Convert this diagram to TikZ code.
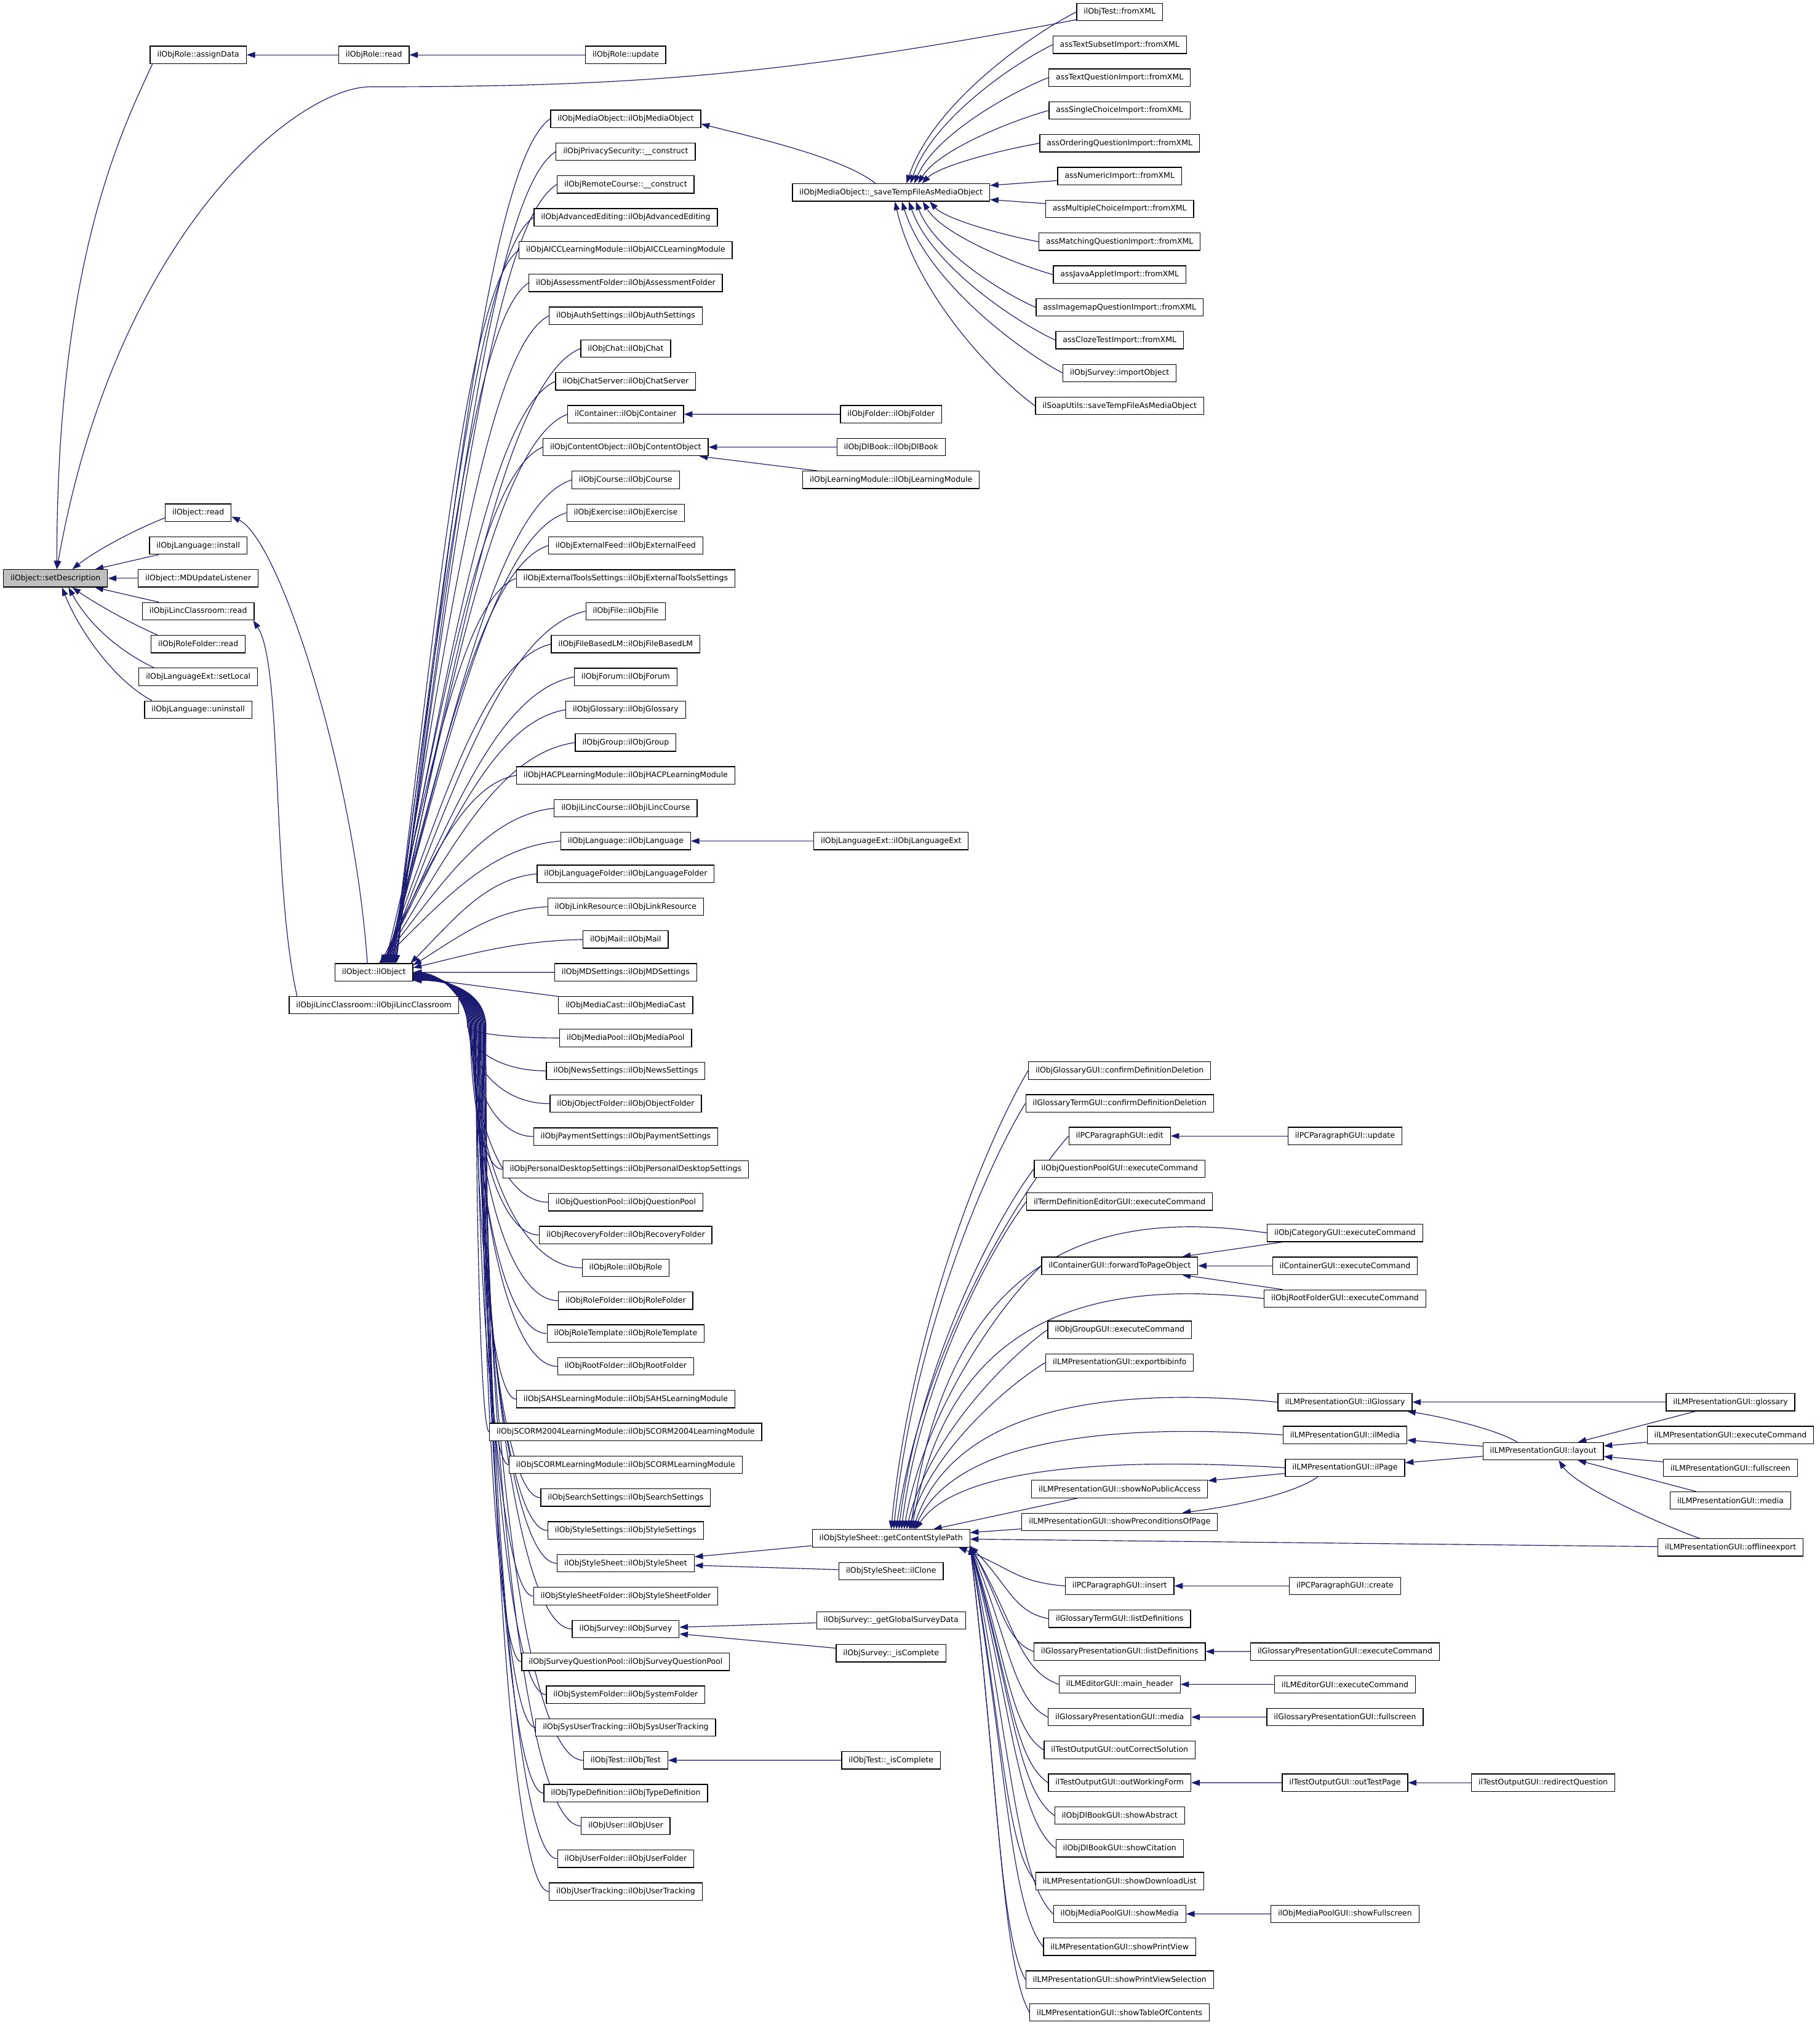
\documentclass[tikz,border=0pt]{standalone}
\usepackage{fontspec}
\setmainfont{DejaVu Sans}
\usetikzlibrary{arrows.meta,calc}
\definecolor{edgecol}{HTML}{191970}
\definecolor{hlgray}{HTML}{BFBFBF}
\pgfdeclarelayer{back}
\pgfdeclarelayer{edges}
\pgfsetlayers{back,edges,main}
\newcommand\fanedge[6]{%
  \draw[conn] let \p1=(#1), \p2=(#2), \n1={\x1-\x2}, \n2={\y1-\y2} in
    (\p1) .. controls ($(\p1)+({-1*(#3)*\n1},{-1*(#4)*\n2})$)
             and ($(\p2)+({(#5)*\n1},{(#6)*\n2})$) .. (\p2);}
\newcommand\lowfan[3]{%
  \draw[conn] let \p1=(c#1.west) in
    (\p1) .. controls ({\x1-0.6*(\x1-#2pt)},\y1) and (#2,{-795+0.5*(\y1+795)}) .. (#2,-795)
    .. controls (#2,-772) and ({#2-22},{-752.9+#3}) .. ([yshift=#3pt]obj.east);}
\begin{document}
\begin{tikzpicture}[x=1pt,y=1pt,
  box/.style={draw=black,line width=0.6pt,fill=white,
    font=\fontsize{5.95}{7}\selectfont,inner xsep=5.45pt,inner ysep=0pt,
    minimum height=13.5pt},
  conn/.style={draw=edgecol,line width=0.55pt,
    -{Triangle[length=6.5pt,width=4.6pt]}}]
\useasboundingbox (0,0) rectangle (1409,-1568);
\begin{pgfonlayer}{back}
\fill[white] (0,0) rectangle (1409,-1568);
\end{pgfonlayer}

% ---------- rank 1 / 2 / 3
\node[box,fill=hlgray] (sd) at (43,-447.8) {ilObject::setDescription};
\node[box] (ad) at (153.5,-42.5) {ilObjRole::assignData};
\node[box] (oread) at (153.5,-397) {ilObject::read};
\node[box] (inst) at (153.5,-422.4) {ilObjLanguage::install};
\node[box] (mdu) at (153.5,-447.8) {ilObject::MDUpdateListener};
\node[box] (lcr) at (153.5,-473.3) {ilObjiLincClassroom::read};
\node[box] (rfr) at (153.5,-498.7) {ilObjRoleFolder::read};
\node[box] (sl) at (153.5,-524.1) {ilObjLanguageExt::setLocal};
\node[box] (un) at (153.5,-549.5) {ilObjLanguage::uninstall};
\node[box] (rr) at (289.5,-42.5) {ilObjRole::read};
\node[box] (obj) at (289.5,-752.9) {ilObject::ilObject};
\node[box] (lc) at (289.5,-778.3) {ilObjiLincClassroom::ilObjiLincClassroom};
\node[box] (ru) at (484.5,-42.5) {ilObjRole::update};

% ---------- rank 4 (constructors)
\foreach \k/\t in {
 0/ilObjMediaObject::ilObjMediaObject,
 1/ilObjPrivacySecurity::\_\_construct,
 2/ilObjRemoteCourse::\_\_construct,
 3/ilObjAdvancedEditing::ilObjAdvancedEditing,
 4/ilObjAICCLearningModule::ilObjAICCLearningModule,
 5/ilObjAssessmentFolder::ilObjAssessmentFolder,
 6/ilObjAuthSettings::ilObjAuthSettings,
 7/ilObjChat::ilObjChat,
 8/ilObjChatServer::ilObjChatServer,
 9/ilContainer::ilObjContainer,
 10/ilObjContentObject::ilObjContentObject,
 11/ilObjCourse::ilObjCourse,
 12/ilObjExercise::ilObjExercise,
 13/ilObjExternalFeed::ilObjExternalFeed,
 14/ilObjExternalToolsSettings::ilObjExternalToolsSettings,
 15/ilObjFile::ilObjFile,
 16/ilObjFileBasedLM::ilObjFileBasedLM,
 17/ilObjForum::ilObjForum,
 18/ilObjGlossary::ilObjGlossary,
 19/ilObjGroup::ilObjGroup,
 20/ilObjHACPLearningModule::ilObjHACPLearningModule,
 21/ilObjiLincCourse::ilObjiLincCourse,
 22/ilObjLanguage::ilObjLanguage,
 23/ilObjLanguageFolder::ilObjLanguageFolder,
 24/ilObjLinkResource::ilObjLinkResource,
 25/ilObjMail::ilObjMail,
 26/ilObjMDSettings::ilObjMDSettings,
 27/ilObjMediaCast::ilObjMediaCast,
 28/ilObjMediaPool::ilObjMediaPool,
 29/ilObjNewsSettings::ilObjNewsSettings,
 30/ilObjObjectFolder::ilObjObjectFolder,
 31/ilObjPaymentSettings::ilObjPaymentSettings,
 32/ilObjPersonalDesktopSettings::ilObjPersonalDesktopSettings,
 33/ilObjQuestionPool::ilObjQuestionPool,
 34/ilObjRecoveryFolder::ilObjRecoveryFolder,
 35/ilObjRole::ilObjRole,
 36/ilObjRoleFolder::ilObjRoleFolder,
 37/ilObjRoleTemplate::ilObjRoleTemplate,
 38/ilObjRootFolder::ilObjRootFolder,
 39/ilObjSAHSLearningModule::ilObjSAHSLearningModule,
 40/ilObjSCORM2004LearningModule::ilObjSCORM2004LearningModule,
 41/ilObjSCORMLearningModule::ilObjSCORMLearningModule,
 42/ilObjSearchSettings::ilObjSearchSettings,
 43/ilObjStyleSettings::ilObjStyleSettings,
 44/ilObjStyleSheet::ilObjStyleSheet,
 45/ilObjStyleSheetFolder::ilObjStyleSheetFolder,
 46/ilObjSurvey::ilObjSurvey,
 47/ilObjSurveyQuestionPool::ilObjSurveyQuestionPool,
 48/ilObjSystemFolder::ilObjSystemFolder,
 49/ilObjSysUserTracking::ilObjSysUserTracking,
 50/ilObjTest::ilObjTest,
 51/ilObjTypeDefinition::ilObjTypeDefinition,
 52/ilObjUser::ilObjUser,
 53/ilObjUserFolder::ilObjUserFolder,
 54/ilObjUserTracking::ilObjUserTracking}
 \node[box] (c\k) at (484.5,{-92-25.42*\k}) {\t};

% ---------- rank 5
\node[box] (save) at (690,-149.1) {ilObjMediaObject::\_saveTempFileAsMediaObject};
\node[box] (fol) at (690,-320.78) {ilObjFolder::ilObjFolder};
\node[box] (dlb) at (690,-346.2) {ilObjDlBook::ilObjDlBook};
\node[box] (lm) at (690,-371.6) {ilObjLearningModule::ilObjLearningModule};
\node[box] (lx) at (690,-651.24) {ilObjLanguageExt::ilObjLanguageExt};
\node[box] (gp) at (690,-1191.1) {ilObjStyleSheet::getContentStylePath};
\node[box] (cl) at (690,-1216.6) {ilObjStyleSheet::ilClone};
\node[box] (gsd) at (690,-1254.7) {ilObjSurvey::\_getGlobalSurveyData};
\node[box] (sic) at (690,-1280.1) {ilObjSurvey::\_isComplete};
\node[box] (tic) at (690,-1363.0) {ilObjTest::\_isComplete};

% ---------- rank 6
\foreach \j/\t in {
 0/ilObjTest::fromXML,
 1/assTextSubsetImport::fromXML,
 2/assTextQuestionImport::fromXML,
 3/assSingleChoiceImport::fromXML,
 4/assOrderingQuestionImport::fromXML,
 5/assNumericImport::fromXML,
 6/assMultipleChoiceImport::fromXML,
 7/assMatchingQuestionImport::fromXML,
 8/assJavaAppletImport::fromXML,
 9/assImagemapQuestionImport::fromXML,
 10/assClozeTestImport::fromXML,
 11/ilObjSurvey::importObject,
 12/ilSoapUtils::saveTempFileAsMediaObject}
 \node[box] (r\j) at (867,{-9.25-25.42*\j}) {\t};

\node[box] (g0) at (867,-829.0) {ilObjGlossaryGUI::confirmDefinitionDeletion};
\node[box] (g1) at (867,-854.4) {ilGlossaryTermGUI::confirmDefinitionDeletion};
\node[box] (g2) at (867,-879.6) {ilPCParagraphGUI::edit};
\node[box] (g3) at (867,-905.0) {ilObjQuestionPoolGUI::executeCommand};
\node[box] (g4) at (867,-930.4) {ilTermDefinitionEditorGUI::executeCommand};
\node[box] (g5) at (867,-980.1) {ilContainerGUI::forwardToPageObject};
\node[box] (g6) at (867,-1029.7) {ilObjGroupGUI::executeCommand};
\node[box] (g7) at (867,-1055.0) {ilLMPresentationGUI::exportbibinfo};
\node[box] (g8) at (867,-1153.0) {ilLMPresentationGUI::showNoPublicAccess};
\node[box] (g9) at (867,-1178.4) {ilLMPresentationGUI::showPreconditionsOfPage};

\foreach \i/\t in {
 0/ilPCParagraphGUI::insert,
 1/ilGlossaryTermGUI::listDefinitions,
 2/ilGlossaryPresentationGUI::listDefinitions,
 3/ilLMEditorGUI::main\_header,
 4/ilGlossaryPresentationGUI::media,
 5/ilTestOutputGUI::outCorrectSolution,
 6/ilTestOutputGUI::outWorkingForm,
 7/ilObjDlBookGUI::showAbstract,
 8/ilObjDlBookGUI::showCitation,
 9/ilLMPresentationGUI::showDownloadList,
 10/ilObjMediaPoolGUI::showMedia,
 11/ilLMPresentationGUI::showPrintView,
 12/ilLMPresentationGUI::showPrintViewSelection,
 13/ilLMPresentationGUI::showTableOfContents}
 \node[box] (h\i) at (867,{-1228-25.4*\i}) {\t};

% ---------- rank 7 / 8 / 9
\node[box] (pcu) at (1041.5,-879.6) {ilPCParagraphGUI::update};
\node[box] (cat) at (1041.5,-954.7) {ilObjCategoryGUI::executeCommand};
\node[box] (cge) at (1041.5,-980.1) {ilContainerGUI::executeCommand};
\node[box] (rfg) at (1041.5,-1005.5) {ilObjRootFolderGUI::executeCommand};
\node[box] (ilg) at (1041.5,-1085.7) {ilLMPresentationGUI::ilGlossary};
\node[box] (ilm) at (1041.5,-1111.1) {ilLMPresentationGUI::ilMedia};
\node[box] (ilp) at (1041.5,-1136.5) {ilLMPresentationGUI::ilPage};
\node[box] (pcc) at (1041.5,-1228.0) {ilPCParagraphGUI::create};
\node[box] (gpe) at (1041.5,-1278.8) {ilGlossaryPresentationGUI::executeCommand};
\node[box] (lme) at (1041.5,-1304.2) {ilLMEditorGUI::executeCommand};
\node[box] (gpf) at (1041.5,-1329.6) {ilGlossaryPresentationGUI::fullscreen};
\node[box] (otp) at (1041.5,-1380.4) {ilTestOutputGUI::outTestPage};
\node[box] (mpf) at (1041.5,-1482.0) {ilObjMediaPoolGUI::showFullscreen};
\node[box] (lay) at (1195,-1123.7) {ilLMPresentationGUI::layout};
\node[box] (rq) at (1195,-1380.4) {ilTestOutputGUI::redirectQuestion};
\node[box] (lgl) at (1340,-1085.7) {ilLMPresentationGUI::glossary};
\node[box] (lex) at (1340,-1111.1) {ilLMPresentationGUI::executeCommand};
\node[box] (lfs) at (1340,-1136.5) {ilLMPresentationGUI::fullscreen};
\node[box] (lmd) at (1340,-1161.9) {ilLMPresentationGUI::media};
\node[box] (off) at (1340,-1198.2) {ilLMPresentationGUI::offlineexport};

% ================= connectors
\begin{pgfonlayer}{edges}
% straight ones
\draw[conn] (rr) -- (ad);
\draw[conn] (ru) -- (rr);
\draw[conn] (mdu) -- (sd);
\draw[conn] (inst) -- (sd);
\draw[conn] (lcr) -- (sd);
\draw[conn] (fol) -- (c9);
\draw[conn] (dlb) -- (c10);
\draw[conn] (lm) -- (c10);
\draw[conn] (lx) -- (c22);
\draw[conn] (gp) -- (c44);
\draw[conn] (cl) -- (c44);
\draw[conn] (gsd) -- (c46);
\draw[conn] (sic) -- (c46);
\draw[conn] (tic) -- (c50);
\draw[conn] (c26) -- (obj);
\draw[conn] (c27) -- (obj);
\draw[conn] (r5) -- (save);
\draw[conn] (r6) -- (save);
\draw[conn] (pcu) -- (g2);
\draw[conn] (cat) -- (g5);
\draw[conn] (cge) -- (g5);
\draw[conn] (rfg) -- (g5);
\draw[conn] (g8) -- (gp);
\draw[conn] (g9) -- (gp);
\draw[conn] (off) -- (gp);
\draw[conn] (lgl) -- (ilg);
\draw[conn] (lay) -- (ilm);
\draw[conn] (lay) -- (ilp);
\draw[conn] (lgl) -- (lay);
\draw[conn] (lex) -- (lay);
\draw[conn] (lfs) -- (lay);
\draw[conn] (lmd) -- (lay);
\draw[conn] (ilp) -- (g8);
\draw[conn] (pcc) -- (h0);
\draw[conn] (gpe) -- (h2);
\draw[conn] (lme) -- (h3);
\draw[conn] (gpf) -- (h4);
\draw[conn] (otp) -- (h6);
\draw[conn] (rq) -- (otp);
\draw[conn] (mpf) -- (h10);

% curved ones into setDescription
\draw[conn] ([xshift=2pt]ad.south west) .. controls (95,-100) and (44,-200) .. ([xshift=1pt]sd.north);
\draw[conn] ([yshift=-6pt]r0.west) .. controls (600,-60) and (480,-67.2) .. (287,-67.2)
   .. controls (230,-67.2) and (90,-180) .. ([xshift=1pt]sd.north);
\draw[conn] ([yshift=-4pt]oread.west) .. controls (100,-412) and (72,-428) .. ([xshift=13pt]sd.north);
\draw[conn] ([xshift=5pt]rfr.north west) .. controls (100,-482) and (75,-468) .. ([xshift=13pt]sd.south);
\draw[conn] ([xshift=12pt]sl.north west) .. controls (90,-503) and (68,-482) .. ([xshift=10pt]sd.south);
\draw[conn] ([xshift=6pt]un.north west) .. controls (90,-528) and (62,-490) .. ([xshift=5pt]sd.south);

% other curves
\draw[conn] ([xshift=-5pt]obj.north) .. controls (274,-596) and (216,-417) .. ([yshift=-3pt]oread.east);
\draw[conn] ([xshift=-59.5pt]lc.north) .. controls (210,-681) and (219,-515) .. ([xshift=-1pt]lcr.south east);
\draw[conn] ([xshift=-12pt]save.north) .. controls (653,-122) and (582.5,-106) .. ([yshift=-4pt]c0.east);
\draw[conn] ([xshift=-20pt]lay.north) .. controls (1155,-1105) and (1110,-1096) .. ([xshift=-4pt]ilg.south east);
\draw[conn] ([xshift=-24pt]off.north) .. controls (1280,-1178) and (1220,-1150) .. ([xshift=12pt]lay.south);
\draw[conn] ([xshift=-21pt]ilp.south) .. controls (1000,-1158) and (950,-1167) .. ([xshift=48.5pt]g9.north);

% fan into ilObject::ilObject
\foreach \k in {0,...,22}{
  \pgfmathsetmacro\sh{4+(22-\k)*0.6}
  \fanedge{c\k.west}{[xshift=\sh pt]obj.north}{0.4}{0.05}{0.35}{0.5}
}
\fanedge{c23.west}{[xshift=-2pt]obj.north east}{0.4}{0.05}{0.35}{0.5}
\fanedge{c24.west}{[yshift=-1.5pt]obj.north east}{0.4}{0.05}{0.35}{0.5}
\fanedge{c25.west}{[yshift=-3.5pt]obj.north east}{0.4}{0.05}{0.35}{0.5}
\foreach \k in {28,...,54}{
  \pgfmathsetmacro\vx{362+0.55*(\k-28)}
  \pgfmathsetmacro\ty{-0.5-0.22*(\k-28)}
  \lowfan{\k}{\vx}{\ty}
}

% fan into _saveTempFileAsMediaObject
\foreach \j in {0,...,4}{
  \pgfmathsetmacro\sh{12+3*\j}
  \fanedge{r\j.west}{[xshift=\sh pt]save.north}{0.3}{0.15}{0.15}{0.45}
}
\foreach \j in {7,...,12}{
  \pgfmathsetmacro\sh{30-5.4*(\j-7)}
  \fanedge{r\j.west}{[xshift=\sh pt]save.south}{0.3}{0.15}{0.15}{0.45}
}

% fan into getContentStylePath
\foreach \i in {0,...,7}{
  \pgfmathsetmacro\sh{2*\i}
  \fanedge{g\i.west}{[xshift=\sh pt]gp.north}{0.3}{0.15}{0.15}{0.45}
}
\fanedge{cat.west}{[xshift=15pt]gp.north}{0.55}{-0.1}{0.1}{0.85}
\fanedge{rfg.west}{[xshift=16pt]gp.north}{0.55}{-0.1}{0.1}{0.85}
\fanedge{ilg.west}{[xshift=17pt]gp.north}{0.55}{-0.15}{0.1}{0.85}
\fanedge{ilm.west}{[xshift=18pt]gp.north}{0.55}{-0.15}{0.1}{0.85}
\fanedge{ilp.west}{[xshift=19pt]gp.north}{0.55}{-0.2}{0.1}{0.9}
\fanedge{h0.west}{[xshift=-9pt]gp.south east}{0.45}{0.1}{0.5}{0.55}
\foreach \i in {1,...,13}{
  \fanedge{h\i.west}{[yshift=1pt]gp.south east}{0.45}{0.1}{0.5}{0.55}
}
\end{pgfonlayer}
\end{tikzpicture}
\end{document}
